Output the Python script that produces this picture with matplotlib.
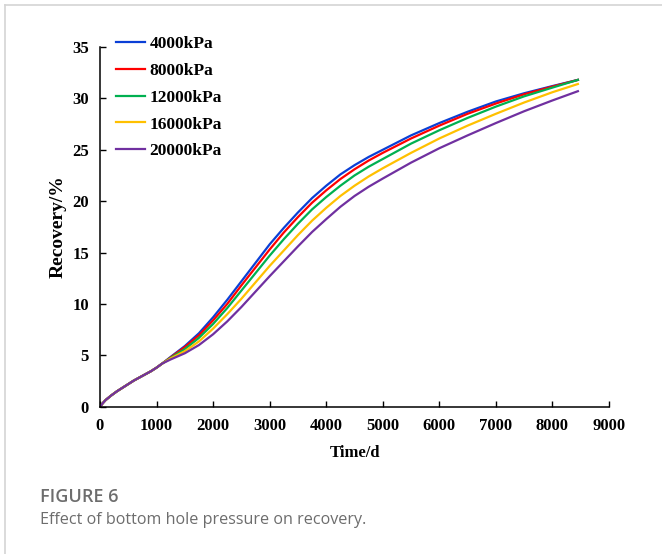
import matplotlib
matplotlib.use("Agg")
import matplotlib.pyplot as plt
from matplotlib.lines import Line2D

# ---- data ----
time_d = [0, 50, 100, 200, 300, 400, 500, 600, 750, 900, 1000, 1100,
          1250, 1500, 1750, 2000, 2250, 2500, 2750, 3000, 3250, 3500, 3750,
          4000, 4250, 4500, 4750, 5000, 5500, 6000, 6500, 7000, 7500, 8000, 8450]
early = [0, 0.35, 0.65, 1.1, 1.5, 1.85, 2.2, 2.55, 3.0, 3.45, 3.8, 4.2]
rec_4000 = early + [4.85, 5.9, 7.15, 8.7, 10.4, 12.2, 14.0, 15.8, 17.4, 18.9, 20.3,
                    21.5, 22.6, 23.5, 24.3, 25.0, 26.4, 27.6, 28.7, 29.7, 30.5, 31.2, 31.8]
rec_8000 = early + [4.8, 5.8, 6.95, 8.4, 10.0, 11.8, 13.55, 15.3, 16.95, 18.45, 19.85,
                    21.05, 22.15, 23.1, 23.95, 24.7, 26.1, 27.35, 28.5, 29.5, 30.4, 31.15, 31.8]
rec_12000 = early + [4.75, 5.6, 6.7, 8.05, 9.6, 11.3, 13.0, 14.7, 16.3, 17.8, 19.2,
                     20.4, 21.5, 22.5, 23.35, 24.1, 25.6, 26.9, 28.1, 29.2, 30.2, 31.05, 31.8]
rec_16000 = early + [4.7, 5.4, 6.35, 7.6, 9.0, 10.5, 12.1, 13.7, 15.2, 16.7, 18.1,
                     19.35, 20.5, 21.5, 22.4, 23.2, 24.7, 26.1, 27.35, 28.5, 29.6, 30.6, 31.4]
rec_20000 = early + [4.6, 5.2, 6.0, 7.05, 8.3, 9.7, 11.2, 12.7, 14.15, 15.6, 17.0,
                     18.25, 19.45, 20.5, 21.4, 22.2, 23.75, 25.15, 26.4, 27.6, 28.75, 29.8, 30.7]
labels = ["4000kPa", "8000kPa", "12000kPa", "16000kPa", "20000kPa"]
colors = ["#0a3fd6", "#ff0000", "#00b050", "#ffc000", "#7030a0"]
x_ticks = [0, 1000, 2000, 3000, 4000, 5000, 6000, 7000, 8000, 9000]
y_ticks = [0, 5, 10, 15, 20, 25, 30, 35]

series = [rec_4000, rec_8000, rec_12000, rec_16000, rec_20000]

fig = plt.figure(figsize=(6.62, 5.54), dpi=100)
ax = fig.add_axes([100/662, 1-406.7/554, 509/662, (406.7-47)/554])

for ys, lab, c in zip(series, labels, colors):
    ax.plot(time_d, ys, color=c, lw=1.6, label=lab)

ax.set_xlim(0, 9000)
ax.set_ylim(0, 35)
ax.set_xticks(x_ticks)
ax.set_yticks(y_ticks)
for s in ["top", "right"]:
    ax.spines[s].set_visible(False)
for s in ["left", "bottom"]:
    ax.spines[s].set_linewidth(1.1)
ax.tick_params(direction="in", length=4, width=1.0, pad=8)
for lab in ax.get_xticklabels() + ax.get_yticklabels():
    lab.set_fontfamily("Liberation Serif")
    lab.set_fontweight("bold")
    lab.set_fontsize(12)
ax.set_xlabel("Time/d", fontdict={"family": "Liberation Serif", "weight": "bold", "size": 12},
              labelpad=8)
ax.set_ylabel("Recovery/%", fontdict={"family": "Liberation Serif", "weight": "bold", "size": 14},
              labelpad=4)

leg = ax.legend(loc="upper left", bbox_to_anchor=(0.0, 1.075), frameon=False,
                prop={"family": "Liberation Serif", "weight": "bold", "size": 12.5},
                handlelength=1.7, handletextpad=0.25, labelspacing=0.62)

# caption
fig.text(40/662, 1-497/554, "FIGURE 6", color="#6d6d6d", fontsize=13,
         family="Open Sans", weight="semibold", va="center", ha="left")
fig.text(40/662, 1-520/554, "Effect of bottom hole pressure on recovery.",
         color="#6d6d6d", fontsize=11.6, family="Open Sans", va="center", ha="left")

# frame lines
fig.add_artist(Line2D([5/662, 1], [1-5/554, 1-5/554], transform=fig.transFigure,
                      color="#d4d4d4", lw=1.2))
fig.add_artist(Line2D([5/662, 5/662], [0, 1-5/554], transform=fig.transFigure,
                      color="#d4d4d4", lw=1.2))

fig.savefig("out.png", dpi=100)
